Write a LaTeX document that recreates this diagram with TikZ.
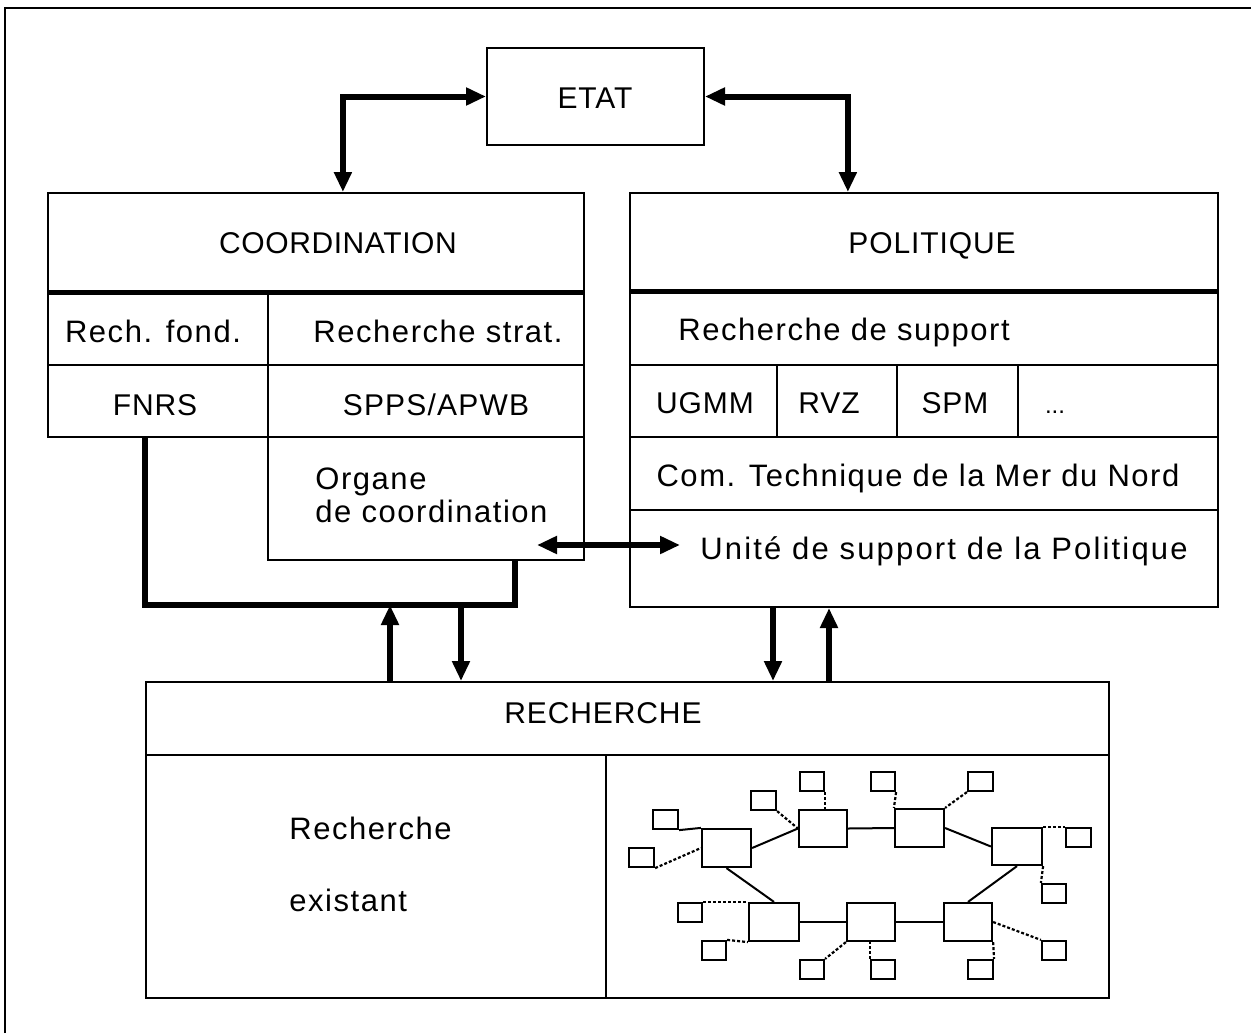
\documentclass[tikz,border=0pt]{standalone}
\usepackage{fontspec}
\setmainfont{Liberation Sans}
\usetikzlibrary{arrows.meta,fit,calc}
\begin{document}
\begin{tikzpicture}[x=0.5pt,y=-0.5pt,
  box/.style={draw, line width=1pt, inner sep=0pt},
  sep/.style={line width=2.5pt},
  txt/.style={inner sep=0pt, anchor=base, font=\fontsize{15.5}{18}\selectfont\addfontfeatures{LetterSpace=5}},
  caps/.style={inner sep=0pt, anchor=base, font=\fontsize{15}{18}\selectfont\addfontfeatures{LetterSpace=3}},
  txtl/.style={txt, anchor=base west},
  flow/.style={line width=3pt, line join=miter},
  tip/.style={-{Triangle[length=10pt,width=8.5pt]}},
  tips/.style={{Triangle[length=10pt,width=8.5pt]}-{Triangle[length=10pt,width=8.5pt]}},
  big/.style={draw, line width=1.1pt, inner sep=0pt},
  small/.style={draw, line width=1.1pt, inner sep=0pt},
  link/.style={line width=1pt},
  weak/.style={line width=1.1pt, dash pattern=on 1.5pt off 1pt}]
\useasboundingbox (0,0) rectangle (1251,1033);

% outer frame (top and left edges)
\draw[line width=1.2pt] (5,1033) -- (5,8) -- (1251,8);

% ETAT
\node[box, fit={(487,48) (704,145)}] (etat) {};
\node[caps] at (595,108) {ETAT};

% COORDINATION block
\node[box, fit={(48,193) (584,291)}] (coord) {};
\node[caps, font=\fontsize{15}{18}\selectfont\addfontfeatures{LetterSpace=2}] at (338,253) {COORDINATION};
\node[box, fit={(48,291) (268,365)}] (rfond) {};
\node[box, fit={(268,291) (584,365)}] (rstrat) {};
\node[box, fit={(48,365) (268,437)}] (fnrs) {};
\node[box, fit={(268,365) (584,437)}] (spps) {};
\node[box, fit={(268,437) (584,560)}] (organe) {};
\draw[sep] (coord.south west) -- (coord.south east);
\node[txt] at (153,342) {Rech. fond.};
\node[txt] at (438,342) {Recherche strat.};
\node[caps] at (155,415) {FNRS};
\node[caps, font=\fontsize{15}{18}\selectfont\addfontfeatures{LetterSpace=4}] at (436,415) {SPPS/APWB};
\node[txtl] at (315,489) {Organe};
\node[txtl] at (315,522) {de coordination};

% POLITIQUE block
\node[box, fit={(630,193) (1218,290)}] (pol) {};
\node[caps] at (932,253) {POLITIQUE};
\node[box, fit={(630,290) (1218,365)}] (rsup) {};
\node[box, fit={(630,365) (777,437)}] (ugmm) {};
\node[box, fit={(777,365) (897,437)}] (rvz) {};
\node[box, fit={(897,365) (1018,437)}] (spm) {};
\node[box, fit={(1018,365) (1218,437)}] (etc) {};
\node[box, fit={(630,437) (1218,510)}] (ctmn) {};
\node[box, fit={(630,510) (1218,607)}] (usp) {};
\draw[sep] (pol.south west) -- (pol.south east);
\node[txtl] at (678,340) {Recherche de support};
\node[caps] at (705,413) {UGMM};
\node[caps] at (829,413) {RVZ};
\node[caps] at (955,413) {SPM};
\node[caps, font=\fontsize{12}{14}\selectfont] at (1055,413) {...};
\node[txt] at (918,486) {Com. Technique de la Mer du Nord};
\node[txtl, font=\fontsize{15.5}{18}\selectfont\addfontfeatures{LetterSpace=7}] at (700,559) {Unité de support de la Politique};

% RECHERCHE block
\node[box, fit={(146,682) (1109,755)}] (rech) {};
\node[caps] at (603,723) {RECHERCHE};
\node[box, fit={(146,755) (606,998)}] (exist) {};
\node[box, fit={(606,755) (1109,998)}] (net) {};
\node[txtl] at (289,839) {Recherche};
\node[txtl] at (289,911) {existant};

% ETAT links
\draw[flow, tips] ($(coord.north west)!0.55!(coord.north east)$) |- (etat.west);
\draw[flow, tips] ($(pol.north west)!0.371!(pol.north east)$) |- (etat.east);

% coordination feedback loop
\coordinate (loopL) at (145,605);
\coordinate (loopR) at (515,605);
\draw[flow] (fnrs.south -| loopL) -- (loopL) -- (loopR) -- (organe.south -| loopR);
\draw[flow, tip] (rech.north -| 390,0) -- (390,605);
\draw[flow, tip] (461,605) -- (rech.north -| 461,0);
\draw[flow, tip] (usp.south -| 773,0) -- (rech.north -| 773,0);
\draw[flow, tip] (rech.north -| 829,0) -- (usp.south -| 829,0);
\draw[flow, tips] (537,545) -- (680,545);

% research network
\node[big, fit={(702,829) (751,867)}] (b1) {};
\node[big, fit={(799,810) (847,847)}] (b2) {};
\node[big, fit={(895,809) (944,847)}] (b3) {};
\node[big, fit={(992,828) (1042,865)}] (b4) {};
\node[big, fit={(749,903) (799,941)}] (b5) {};
\node[big, fit={(847,903) (895,941)}] (b6) {};
\node[big, fit={(944,903) (992,941)}] (b7) {};
\node[small, fit={(653,810) (678,829)}] (s1) {};
\node[small, fit={(629,848) (654,867)}] (s2) {};
\node[small, fit={(751,791) (776,810)}] (s3) {};
\node[small, fit={(800,772) (824,791)}] (s4) {};
\node[small, fit={(871,772) (895,791)}] (s5) {};
\node[small, fit={(968,772) (993,791)}] (s6) {};
\node[small, fit={(1066,828) (1091,847)}] (s7) {};
\node[small, fit={(1042,884) (1066,903)}] (s8) {};
\node[small, fit={(1042,941) (1066,960)}] (s9) {};
\node[small, fit={(968,960) (993,979)}] (s10) {};
\node[small, fit={(871,960) (895,979)}] (s11) {};
\node[small, fit={(800,960) (824,979)}] (s12) {};
\node[small, fit={(702,941) (726,960)}] (s13) {};
\node[small, fit={(678,903) (702,922)}] (s14) {};

\draw[link] (b1.east) -- (b2.west);
\draw[link] (b2.east) -- (b3.west);
\draw[link] (b3.east) -- (b4.west);
\draw[link] (b1.south) -- (b5.north);
\draw[link] (b4.south) -- (b7.north);
\draw[link] (b5.east) -- (b6.west);
\draw[link] (b6.east) -- (b7.west);

\draw[link] (s1.south east) -- (b1.north west);
\draw[weak] (s2.south east) -- (b1.west);
\draw[weak] (s3.south east) -- (b2.west);
\draw[weak] (s4.south east) -- (s4.south east |- b2.north);
\draw[weak] (s5.south east) -- (b3.north west);
\draw[weak] (s6.south west) -- (b3.north east);
\draw[weak] (b4.north east) -- (s7.north west);
\draw[weak] (b4.south east) -- (s8.north west);
\draw[weak] (b7.east) -- (s9.north west);
\draw[weak] (b7.south east) -- (s10.north east);
\draw[weak] (s11.north west) -- (s11.north west |- b6.south);
\draw[weak] (b6.south west) -- (s12.north east);
\draw[weak] (s13.north east) -- (b5.south west);
\draw[weak] (s14.north east) -- (b5.north west);
\end{tikzpicture}
\end{document}
